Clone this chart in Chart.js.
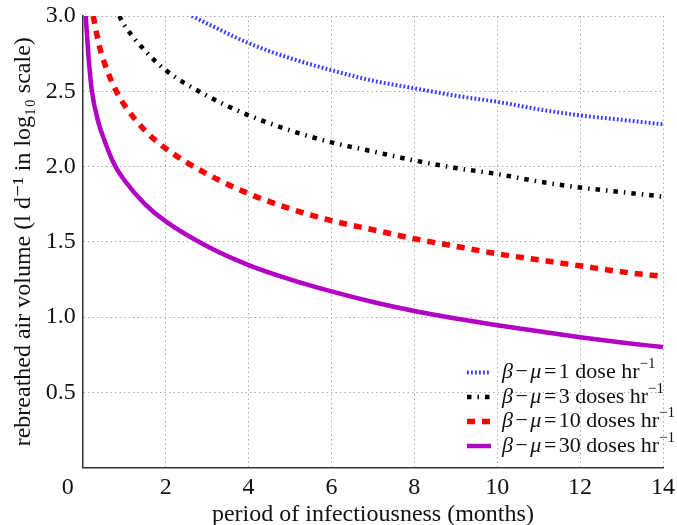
<!DOCTYPE html>
<html>
<head>
<meta charset="utf-8">
<script src="https://cdn.jsdelivr.net/npm/chart.js@4.4.1/dist/chart.umd.min.js"></script>
<style>
  html, body { margin: 0; padding: 0; background: #fff; }
  #wrap { width: 677px; height: 525px; }
</style>
</head>
<body>
<div id="wrap"><canvas id="chart"></canvas></div>
<script>
const serif = "'Liberation Serif', 'DejaVu Serif', 'Times New Roman', serif";

// period of infectiousness (months) and rebreathed volume (log10 l/d)
const monthsRate1 = [2.63, 3, 4, 5, 6, 7, 8, 9, 10, 11, 12, 13, 14];
const volumeRate1 = [3.0, 2.95, 2.82, 2.72, 2.64, 2.57, 2.52, 2.47, 2.43, 2.38, 2.34, 2.31, 2.28];

const monthsRate3 = [0.88, 1, 1.5, 2, 3, 4, 5, 6, 7, 8, 9, 10, 11, 12, 13, 14];
const volumeRate3 = [3.0, 2.94, 2.77, 2.64, 2.47, 2.34, 2.24, 2.16, 2.10, 2.04, 1.99, 1.95, 1.90, 1.86, 1.83, 1.80];

const monthsRate10 = [0.25, 0.4, 0.6, 0.81, 1, 1.5, 2, 3, 4, 5, 6, 7, 8, 9, 10, 11, 12, 13, 14];
const volumeRate10 = [3.0, 2.8, 2.63, 2.5, 2.41, 2.24, 2.12, 1.95, 1.82, 1.72, 1.64, 1.58, 1.52, 1.47, 1.42, 1.38, 1.34, 1.30, 1.27];

const monthsRate30 = [0.07, 0.15, 0.22, 0.38, 0.5, 0.75, 1, 1.5, 2, 3, 4, 5, 6, 7, 8, 9, 10, 11, 12, 13, 14];
const volumeRate30 = [3.0, 2.69, 2.5, 2.29, 2.19, 2.02, 1.91, 1.75, 1.635, 1.47, 1.345, 1.25, 1.17, 1.10, 1.04, 0.99, 0.945, 0.905, 0.865, 0.83, 0.80];

const doseRates = [1, 3, 10, 30];
const doseUnits = ['dose', 'doses', 'doses', 'doses'];

const xTicks = [0, 2, 4, 6, 8, 10, 12, 14];
const yTicks = [0, 0.5, 1.0, 1.5, 2.0, 2.5, 3.0];

function toPoints(xs, ys) {
    return xs.map((x, i) => ({ x: x, y: ys[i] }));
}

function lineSet(xs, ys, color, width, dash) {
    return {
        data: toPoints(xs, ys),
        borderColor: color,
        borderWidth: width,
        borderDash: dash,
        borderCapStyle: 'butt',
        pointRadius: 0,
        cubicInterpolationMode: 'monotone',
        fill: false
    };
}

// draws text pieces one after another, some italic, some raised
function drawRuns(ctx, x, y, runs) {
    runs.forEach(r => {
        const size = r.sup ? 15 : 22;
        ctx.font = (r.italic ? 'italic ' : '') + size + 'px ' + serif;
        ctx.fillText(r.text, x, r.sup ? y - 8 : y);
        x += ctx.measureText(r.text).width + (r.gap || 0);
    });
}

const doseLegend = {
    id: 'doseLegend',
    afterDraw(chart) {
        const { ctx, chartArea } = chart;
        const lineX = chartArea.right - 196;
        const textX = chartArea.right - 161;
        let y = chartArea.bottom - 95;
        chart.data.datasets.forEach((ds, i) => {
            ctx.save();
            ctx.strokeStyle = ds.borderColor;
            ctx.lineWidth = ds.borderWidth;
            ctx.lineCap = 'butt';
            ctx.setLineDash(ds.borderDash || []);
            ctx.beginPath();
            ctx.moveTo(lineX, y);
            ctx.lineTo(lineX + 24, y);
            ctx.stroke();
            ctx.restore();

            ctx.save();
            ctx.fillStyle = '#111';
            ctx.textBaseline = 'middle';
            drawRuns(ctx, textX, y, [
                { text: '\u03b2', italic: true, gap: 2.5 },
                { text: '\u2212', gap: 2.5 },
                { text: '\u03bc', italic: true, gap: 2.5 },
                { text: '=', gap: 2.5 },
                { text: doseRates[i] + ' ' + doseUnits[i] + ' hr' },
                { text: '\u22121', sup: true }
            ]);
            ctx.restore();
            y += 24.5;
        });
    }
};

const ch = new Chart(document.getElementById('chart'), {
    type: 'line',
    data: {
        datasets: [
            lineSet(monthsRate1, volumeRate1, '#3a3aff', 4, [1.8, 2.2]),
            lineSet(monthsRate3, volumeRate3, '#000000', 4.5, [4.5, 6, 1.5, 6]),
            lineSet(monthsRate10, volumeRate10, '#ff0000', 5.5, [8, 7]),
            lineSet(monthsRate30, volumeRate30, '#b200c4', 4.5, [])
        ]
    },
    options: {
        responsive: true,
        maintainAspectRatio: false,
        animation: false,
        layout: { padding: { left: 5, top: 0, right: 0, bottom: -1.5 } },
        plugins: {
            legend: { display: false },
            tooltip: { enabled: false }
        },
        scales: {
            x: {
                type: 'linear',
                min: 0,
                max: 14,
                afterBuildTicks: axis => { axis.ticks = xTicks.map(v => ({ value: v })); },
                afterFit: axis => { axis.paddingRight = 14; },
                ticks: {
                    color: '#111',
                    padding: 8,
                    font: { family: serif, size: 24, lineHeight: 1.0 },
                    callback: v => v === 0 ? '0     ' : String(v)
                },
                grid: { color: '#aaaaaa', lineWidth: 1, drawTicks: false },
                border: { color: '#333', width: 1.5, dash: [1.5, 3] },
                title: {
                    display: true,
                    text: 'period of infectiousness (months)',
                    color: '#111',
                    font: { family: serif, size: 24, lineHeight: 1.0 },
                    padding: { top: -5, bottom: 0 }
                }
            },
            y: {
                type: 'linear',
                min: 0,
                max: 3,
                afterBuildTicks: axis => { axis.ticks = yTicks.map(v => ({ value: v })); },
                afterFit: axis => { axis.paddingTop = 16; },
                ticks: {
                    color: '#111',
                    padding: 7,
                    font: { family: serif, size: 24 },
                    callback: v => v === 0 ? '' : v.toFixed(1)
                },
                grid: { color: '#aaaaaa', lineWidth: 1, drawTicks: false },
                border: { color: '#333', width: 1.5, dash: [1.5, 3] },
                title: {
                    display: true,
                    text: 'rebreathed air volume (l d\u207b\u00b9 in log\u2081\u2080 scale)',
                    color: '#111',
                    font: { family: serif, size: 24 },
                    padding: { top: 4, bottom: 1 }
                }
            }
        }
    },
    plugins: [doseLegend]
});
</script>
</body>
</html>
